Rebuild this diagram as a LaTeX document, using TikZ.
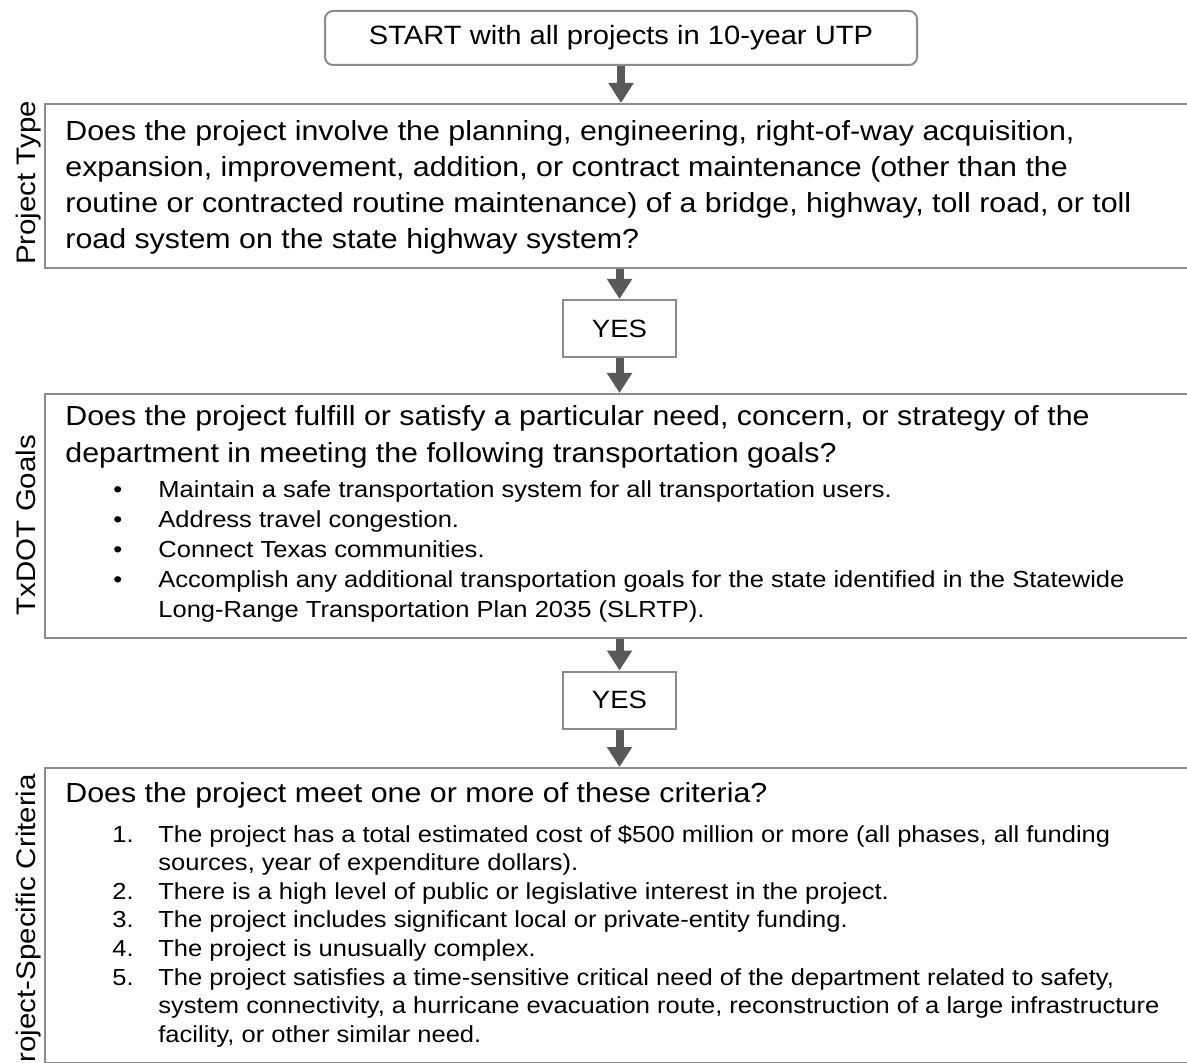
\documentclass[tikz,border=0pt]{standalone}
\usepackage{fontspec}
\setmainfont{Liberation Sans}[FakeStretch=1.1]
\usetikzlibrary{arrows.meta}

\definecolor{bordgris}{HTML}{8C8C8C}
\definecolor{flechegris}{HTML}{595959}

\tikzset{
  boite/.style={draw=bordgris, line width=1pt, inner sep=0pt, minimum width=578pt, anchor=north west},
  petite/.style={draw=bordgris, line width=1pt, inner sep=0pt, minimum width=56.5pt, minimum height=28.5pt, font=\fontsize{12.5}{15}\selectfont},
  texte/.style={inner sep=0pt, anchor=base west, font=\fontsize{13.8}{18}\selectfont},
  liste/.style={inner sep=0pt, anchor=base west, font=\fontsize{11.6}{14.3}\selectfont},
  etiquette/.style={inner sep=0pt, anchor=base, rotate=90, font=\fontsize{13.4}{16}\selectfont},
  fleche/.style={line width=4pt, flechegris, -{Triangle[width=12pt,length=10pt]}}
}

\begin{document}
\begin{tikzpicture}[x=0.5pt, y=-0.5pt]
 \useasboundingbox (0,0) rectangle (1187,1063);
 \clip (0,0) rectangle (1187,1063);

	% Depart
 \node[draw=bordgris, line width=1pt, rounded corners=4pt, minimum width=296pt, minimum height=27pt, inner sep=0pt, font=\fontsize{13.25}{16}\selectfont] (start) at (621,38) {START with all projects in 10-year UTP};

	% Boites
 \node[boite, minimum height=82pt] (typebox) at (44,103) {};
 \node[petite] (oui1) at (619.5,328.5) {YES};
 \node[boite, minimum height=122pt] (goalbox) at (44,393) {};
 \node[petite] (oui2) at (619.5,700) {YES};
 \node[boite, minimum height=147.5pt] (critbox) at (44,767) {};

	% Etiquettes
 \node[etiquette] (typelbl) at (35,183) {Project Type};
 \node[etiquette] (goallbl) at (35,525) {TxDOT Goals};
 \node[etiquette] (critlbl) at (35,928) {Project-Specific Criteria};

	% Textes
 \node[texte] (typeq) at (65,141) {\begin{tabular}[t]{@{}l@{}}
  Does the project involve the planning, engineering, right-of-way acquisition,\\
  expansion, improvement, addition, or contract maintenance (other than the\\
  routine or contracted routine maintenance) of a bridge, highway, toll road, or toll\\
  road system on the state highway system?\end{tabular}};

 \node[texte] (goalq) at (65,426) {\begin{tabular}[t]{@{}l@{}}
  Does the project fulfill or satisfy a particular need, concern, or strategy of the\\
  department in meeting the following transportation goals?\end{tabular}};
 \node[liste, font=\fontsize{11.6}{15}\selectfont] (goallist) at (113,497) {\begin{tabular}[t]{@{}p{22.5pt}@{}l@{}}
  \textbullet & Maintain a safe transportation system for all transportation users.\\
  \textbullet & Address travel congestion.\\
  \textbullet & Connect Texas communities.\\
  \textbullet & Accomplish any additional transportation goals for the state identified in the Statewide\\
   & Long-Range Transportation Plan 2035 (SLRTP).\end{tabular}};

 \node[texte] (critq) at (65,802) {Does the project meet one or more of these criteria?};
 \node[liste] (critlist) at (112,842) {\begin{tabular}[t]{@{}p{23pt}@{}l@{}}
  1. & The project has a total estimated cost of \$500 million or more (all phases, all funding\\
   & sources, year of expenditure dollars).\\
  2. & There is a high level of public or legislative interest in the project.\\
  3. & The project includes significant local or private-entity funding.\\
  4. & The project is unusually complex.\\
  5. & The project satisfies a time-sensitive critical need of the department related to safety,\\
   & system connectivity, a hurricane evacuation route, reconstruction of a large infrastructure\\
   & facility, or other similar need.\end{tabular}};

	% Fleches
 \draw[fleche] (start.south) -- (start.south |- typebox.north);
 \draw[fleche] (typebox.south -| oui1.north) -- (oui1.north);
 \draw[fleche] (oui1.south) -- (oui1.south |- goalbox.north);
 \draw[fleche] (goalbox.south -| oui2.north) -- (oui2.north);
 \draw[fleche] (oui2.south) -- (oui2.south |- critbox.north);

\end{tikzpicture}
\end{document}
